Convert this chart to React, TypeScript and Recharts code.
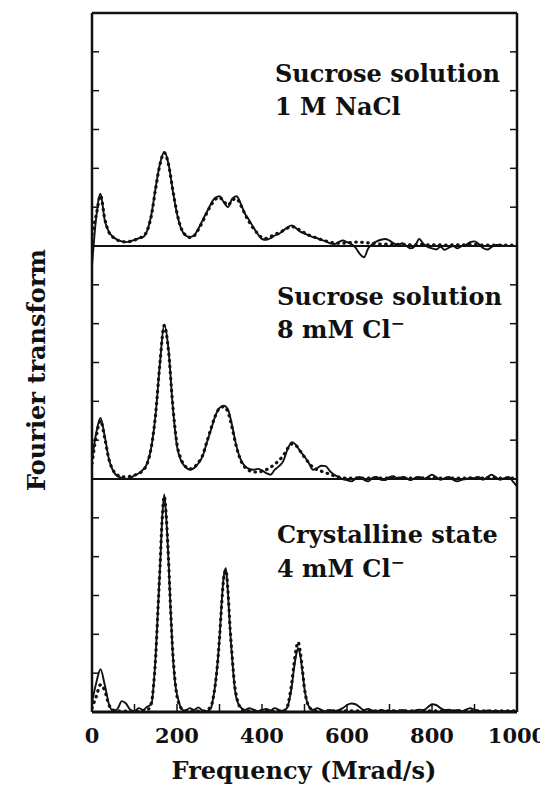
import { LineChart, Line, XAxis, YAxis, ReferenceLine } from 'recharts'

// frequency grid (Mrad/s) shared by the two solution spectra
const freqGrid = [
  0, 10, 20, 30, 40, 50, 60, 70, 80, 90,
  100, 110, 120, 130, 140, 150, 160, 170, 180, 190,
  200, 210, 220, 230, 240, 250, 260, 270, 280, 290,
  300, 310, 320, 330, 340, 350, 360, 370, 380, 390,
  400, 410, 420, 430, 440, 450, 460, 470, 480, 490,
  500, 510, 520, 530, 540, 550, 560, 570, 580, 590,
  600, 610, 620, 630, 640, 650, 660, 670, 680, 690,
  700, 710, 720, 730, 740, 750, 760, 770, 780, 790,
  800, 810, 820, 830, 840, 850, 860, 870, 880, 890,
  900, 910, 920, 930, 940, 950, 960, 970, 980, 990,
  1000,
]

// Sucrose solution, 1 M NaCl
const nacl = [
  -0.5, 0.74, 1.35, 0.66, 0.36, 0.23, 0.16, 0.12, 0.1, 0.12,
  0.16, 0.2, 0.23, 0.4, 0.83, 1.52, 2.12, 2.42, 2.12, 1.43,
  0.83, 0.44, 0.27, 0.23, 0.27, 0.44, 0.66, 0.87, 1.09, 1.24,
  1.28, 1.13, 1.0, 1.22, 1.28, 1.09, 0.83, 0.66, 0.48, 0.31,
  0.18, 0.16, 0.2, 0.27, 0.31, 0.4, 0.48, 0.53, 0.46, 0.37,
  0.32, 0.27, 0.23, 0.2, 0.16, 0.12, 0.07, 0.05, 0.1, 0.14,
  0.1, 0.05, -0.04, -0.2, -0.29, -0.06, 0.05, 0.12, 0.16, 0.18,
  0.14, 0.07, 0.03, 0.07, 0, -0.06, 0, 0.18, 0.05, -0.02,
  -0.06, -0.09, -0.02, -0.1, -0.04, 0, -0.06, 0, 0.03, 0.1,
  0.12, 0.05, -0.05, -0.09, -0.03, 0.03, 0.03, 0, 0, 0,
  0,
]
const naclFit = [
  0.3, 0.8, 1.3, 0.7, 0.35, 0.22, 0.15, 0.12, 0.1, 0.12,
  0.15, 0.2, 0.25, 0.4, 0.8, 1.5, 2.1, 2.4, 2.1, 1.45,
  0.85, 0.45, 0.28, 0.22, 0.26, 0.42, 0.62, 0.85, 1.05, 1.2,
  1.25, 1.15, 1.05, 1.18, 1.22, 1.05, 0.82, 0.62, 0.45, 0.32,
  0.22, 0.2, 0.24, 0.3, 0.34, 0.4, 0.46, 0.5, 0.47, 0.4,
  0.34, 0.28, 0.24, 0.2, 0.16, 0.13, 0.1, 0.08, 0.07, 0.07,
  0.08, 0.09, 0.1, 0.1, 0.09, 0.08, 0.07, 0.06, 0.05, 0.05,
  0.04, 0.04, 0.04, 0.04, 0.04, 0.03, 0.03, 0.04, 0.04, 0.03,
  0.03, 0.03, 0.03, 0.02, 0.02, 0.03, 0.03, 0.03, 0.03, 0.04,
  0.04, 0.03, 0.02, 0.02, 0.02, 0.02, 0.02, 0.02, 0.02, 0.02,
  0.02,
]

// Sucrose solution, 8 mM Cl-
const lowCl = [
  0.5, 1.19, 1.57, 1.1, 0.5, 0.2, 0.07, 0.03, 0, 0.03,
  0.09, 0.15, 0.24, 0.41, 0.84, 1.7, 2.99, 3.98, 3.33, 1.87,
  0.84, 0.46, 0.31, 0.24, 0.28, 0.4, 0.58, 0.93, 1.27, 1.62,
  1.83, 1.89, 1.79, 1.36, 0.84, 0.5, 0.33, 0.26, 0.24, 0.26,
  0.22, 0.15, 0.11, 0.24, 0.33, 0.46, 0.76, 0.95, 0.88, 0.71,
  0.58, 0.41, 0.24, 0.28, 0.34, 0.33, 0.2, 0.11, 0.05, 0,
  -0.03, -0.06, 0, 0.05, -0.02, -0.06, 0.03, 0.05, -0.02, -0.03,
  0.05, 0.07, 0, 0.05, 0.02, -0.03, 0.03, 0.05, 0, 0.05,
  0.11, 0.05, -0.02, 0.02, 0.05, -0.02, -0.06, -0.02, 0, 0.03,
  0.02, 0.05, -0.02, 0.05, 0.11, 0.05, -0.02, 0.02, 0.05, -0.06,
  -0.19,
]
const lowClFit = [
  0.4, 1.1, 1.5, 1.05, 0.5, 0.22, 0.1, 0.06, 0.05, 0.07,
  0.1, 0.14, 0.22, 0.4, 0.85, 1.7, 3.0, 3.95, 3.3, 1.9,
  0.9, 0.5, 0.32, 0.26, 0.3, 0.42, 0.6, 0.95, 1.3, 1.62,
  1.82, 1.86, 1.72, 1.3, 0.82, 0.48, 0.3, 0.22, 0.18, 0.18,
  0.2, 0.24, 0.3, 0.38, 0.48, 0.6, 0.78, 0.9, 0.86, 0.72,
  0.56, 0.42, 0.3, 0.24, 0.2, 0.16, 0.12, 0.08, 0.05, 0.03,
  0.02, 0.02, 0.03, 0.03, 0.02, 0.02, 0.03, 0.03, 0.02, 0.02,
  0.03, 0.03, 0.02, 0.03, 0.03, 0.02, 0.02, 0.03, 0.03, 0.03,
  0.04, 0.03, 0.02, 0.02, 0.03, 0.02, 0.02, 0.02, 0.02, 0.03,
  0.03, 0.03, 0.02, 0.03, 0.04, 0.03, 0.02, 0.02, 0.02, 0.02,
  0.02,
]

// crystal spectrum is sampled more finely around the sharp peaks
const crystalFreq = [
  0, 10, 20, 30, 40, 50, 60, 70, 80, 90, 100, 110, 120, 130, 140,
  145, 150, 155, 160, 165, 170, 175, 180, 185, 190, 195, 200, 205,
  210, 220, 230, 240, 250, 260, 270, 280,
  285, 290, 295, 300, 305, 310, 315, 320, 325, 330, 335,
  340, 350, 360, 370, 380, 390, 400, 410, 420, 430, 440, 450, 460,
  465, 470, 475, 480, 485, 490, 495, 500, 505,
  510, 520, 530, 540, 550, 560, 570, 580, 590, 600,
  610, 620, 630, 640, 650, 660, 670, 680, 690, 700,
  710, 720, 730, 740, 750, 760, 770, 780, 790, 800,
  810, 820, 830, 840, 850, 860, 870, 880, 890, 900,
  910, 920, 930, 940, 950, 960, 970, 980, 990, 1000,
]
// Crystalline state, 4 mM Cl-
const crystal = [
  0.25, 0.75, 1.1, 0.7, 0.2, 0.03, 0.08, 0.28, 0.22, 0.06, 0.02, 0.1, 0.05, 0.14, 0.2,
  0.7, 1.5, 2.6, 3.7, 4.95, 5.6, 4.95, 3.9, 2.6, 1.5, 0.8, 0.45, 0.25,
  0.08, 0.03, 0.1, 0.05, 0.12, 0.04, 0.02, 0.1,
  0.35, 0.7, 1.2, 1.9, 2.8, 3.5, 3.7, 3.05, 2.1, 1.35, 0.7,
  0.35, 0.12, 0.05, 0.1, 0.06, 0.02, 0.05, 0.08, 0.04, 0.1, 0.05, 0.03, 0.12,
  0.35, 0.65, 1.1, 1.45, 1.64, 1.45, 1.05, 0.6, 0.3,
  0.15, 0.05, 0.1, 0.05, 0.02, 0.05, 0.03, 0.05, 0.1, 0.18,
  0.22, 0.2, 0.12, 0.05, 0.08, 0.04, 0.02, 0.05, 0.03, 0.02,
  0.04, 0.02, 0.05, 0.03, 0.02, 0.04, 0.06, 0.05, 0.12, 0.2,
  0.18, 0.1, 0.05, 0.06, 0.03, 0.05, 0.02, 0.06, 0.1, 0.06,
  0.03, 0.02, 0.04, 0.02, 0.03, 0.02, 0.02, 0.03, 0.02, 0.02,
]
const crystalFit = [
  0.1, 0.4, 0.7, 0.55, 0.18, 0.05, 0.03, 0.02, 0.02, 0.02, 0.02, 0.02, 0.03, 0.05, 0.25,
  0.7, 1.45, 2.6, 3.75, 4.95, 5.55, 5.0, 3.95, 2.65, 1.55, 0.85, 0.4, 0.2,
  0.1, 0.04, 0.03, 0.02, 0.02, 0.02, 0.05, 0.15,
  0.35, 0.7, 1.2, 1.9, 2.75, 3.45, 3.65, 3.1, 2.15, 1.4, 0.75,
  0.4, 0.1, 0.03, 0.03, 0.03, 0.03, 0.03, 0.03, 0.03, 0.03, 0.03, 0.03, 0.15,
  0.4, 0.75, 1.2, 1.6, 1.8, 1.55, 1.1, 0.6, 0.3,
  0.15, 0.05, 0.03, 0.03, 0.03, 0.03, 0.03, 0.03, 0.03, 0.03,
  0.03, 0.03, 0.03, 0.03, 0.03, 0.03, 0.03, 0.03, 0.03, 0.03,
  0.03, 0.03, 0.03, 0.03, 0.03, 0.03, 0.03, 0.03, 0.03, 0.03,
  0.03, 0.03, 0.03, 0.03, 0.03, 0.03, 0.03, 0.03, 0.03, 0.03,
  0.03, 0.03, 0.03, 0.03, 0.03, 0.03, 0.03, 0.03, 0.03, 0.03,
]

const freqTicks = [0, 100, 200, 300, 400, 500, 600, 700, 800, 900, 1000]
const freqLabels = [0, 200, 400, 600, 800, 1000]
const topTicks = [
  0, 50, 100, 150, 200, 250, 300, 350, 400, 450, 500,
  550, 600, 650, 700, 750, 800, 850, 900, 950, 1000,
]
const levelTicks = [0, 1, 2, 3, 4, 5, 6, 7, 8, 9, 10, 11, 12, 13, 14, 15, 16, 17, 18]

// each spectrum sits on its own baseline in the stack
const TOP_BASE = 12
const MID_BASE = 6

const INK = '#111'
const FONT = '"DejaVu Serif", serif'

function toPoints(freqs: number[], values: number[], base: number) {
  return freqs.map((f, i) => ({ f, v: values[i] + base }))
}

function FreqTick(props: any) {
  const { x, y, payload } = props
  return (
    <g>
      <line x1={x} x2={x} y1={y} y2={y - 8} stroke={INK} strokeWidth={1.5} />
      {freqLabels.includes(payload.value) && (
        <text x={x} y={y + 31} textAnchor="middle" fontFamily={FONT} fontWeight="bold" fontSize={21} fill={INK}>
          {payload.value}
        </text>
      )}
    </g>
  )
}

// inward tick mark on the frame, no label
function EdgeTick(props: any) {
  const { x, y, dx = 0, dy = 0 } = props
  return <line x1={x} y1={y} x2={x + dx} y2={y + dy} stroke={INK} strokeWidth={1.5} />
}

export default function App() {
  const solidProps = {
    type: 'monotone' as const,
    dataKey: 'v',
    stroke: INK,
    strokeWidth: 1.9,
    dot: false,
    activeDot: false,
    isAnimationActive: false,
    yAxisId: 'left',
  }
  const fitProps = {
    ...solidProps,
    strokeWidth: 3.2,
    strokeDasharray: '0.5 5.5',
    strokeLinecap: 'round' as const,
  }
  const textStyle = { fontFamily: FONT, fontSize: 24, fontWeight: 'bold', fill: INK }

  return (
    <div style={{ position: 'relative', width: 540, height: 784 }}>
      <LineChart width={540} height={784} margin={{ top: 5, right: 31, left: 84, bottom: 50 }}>
        <XAxis
          dataKey="f"
          type="number"
          domain={[0, 1000]}
          ticks={freqTicks}
          interval={0}
          height={30}
          tickSize={0}
          tickMargin={0}
          tickLine={false}
          tick={<FreqTick />}
          axisLine={{ stroke: INK, strokeWidth: 3 }}
          allowDataOverflow
        />
        <XAxis
          xAxisId="top"
          orientation="top"
          mirror
          type="number"
          domain={[0, 1000]}
          ticks={topTicks}
          interval={0}
          tickSize={0}
          tickMargin={0}
          tickLine={false}
          tick={<EdgeTick dy={6} />}
          axisLine={{ stroke: INK, strokeWidth: 2.5 }}
          allowDataOverflow
        />
        <YAxis
          yAxisId="left"
          mirror
          type="number"
          domain={[0, 18]}
          ticks={levelTicks}
          interval={0}
          tickSize={0}
          tickMargin={0}
          tickLine={false}
          tick={<EdgeTick dx={7} />}
          axisLine={{ stroke: INK, strokeWidth: 2.5 }}
          allowDataOverflow
        />
        <YAxis
          yAxisId="right"
          orientation="right"
          mirror
          type="number"
          domain={[0, 18]}
          ticks={levelTicks}
          interval={0}
          tickSize={0}
          tickMargin={0}
          tickLine={false}
          tick={<EdgeTick dx={-7} />}
          axisLine={{ stroke: INK, strokeWidth: 2.5 }}
          allowDataOverflow
        />
        <ReferenceLine yAxisId="left" y={MID_BASE} stroke={INK} strokeWidth={2.2} />
        <ReferenceLine yAxisId="left" y={TOP_BASE} stroke={INK} strokeWidth={2.2} />

        <Line {...fitProps} data={toPoints(freqGrid, naclFit, TOP_BASE)} />
        <Line {...solidProps} data={toPoints(freqGrid, nacl, TOP_BASE)} />
        <Line {...fitProps} data={toPoints(freqGrid, lowClFit, MID_BASE)} />
        <Line {...solidProps} data={toPoints(freqGrid, lowCl, MID_BASE)} />
        <Line {...fitProps} data={toPoints(crystalFreq, crystalFit, 0)} />
        <Line {...solidProps} data={toPoints(crystalFreq, crystal, 0)} />
      </LineChart>

      {/* labels on top of the chart */}
      <svg width={540} height={784} style={{ position: 'absolute', left: 0, top: 0, pointerEvents: 'none' }}>
        <text x={267} y={74} {...textStyle}>Sucrose solution</text>
        <text x={267} y={107} {...textStyle}>1 M NaCl</text>
        <text x={269} y={297} {...textStyle}>Sucrose solution</text>
        <text x={269} y={330} {...textStyle}>
          8 mM Cl<tspan dy={-9} fontSize={17}>−</tspan>
        </text>
        <text x={269} y={535} {...textStyle}>Crystalline state</text>
        <text x={269} y={569} {...textStyle}>
          4 mM Cl<tspan dy={-9} fontSize={17}>−</tspan>
        </text>
        <text x={37} y={362} textAnchor="middle" transform="rotate(-90 37 362)" {...textStyle}>
          Fourier transform
        </text>
        <text x={296} y={771} textAnchor="middle" {...textStyle}>Frequency (Mrad/s)</text>
      </svg>
    </div>
  )
}
